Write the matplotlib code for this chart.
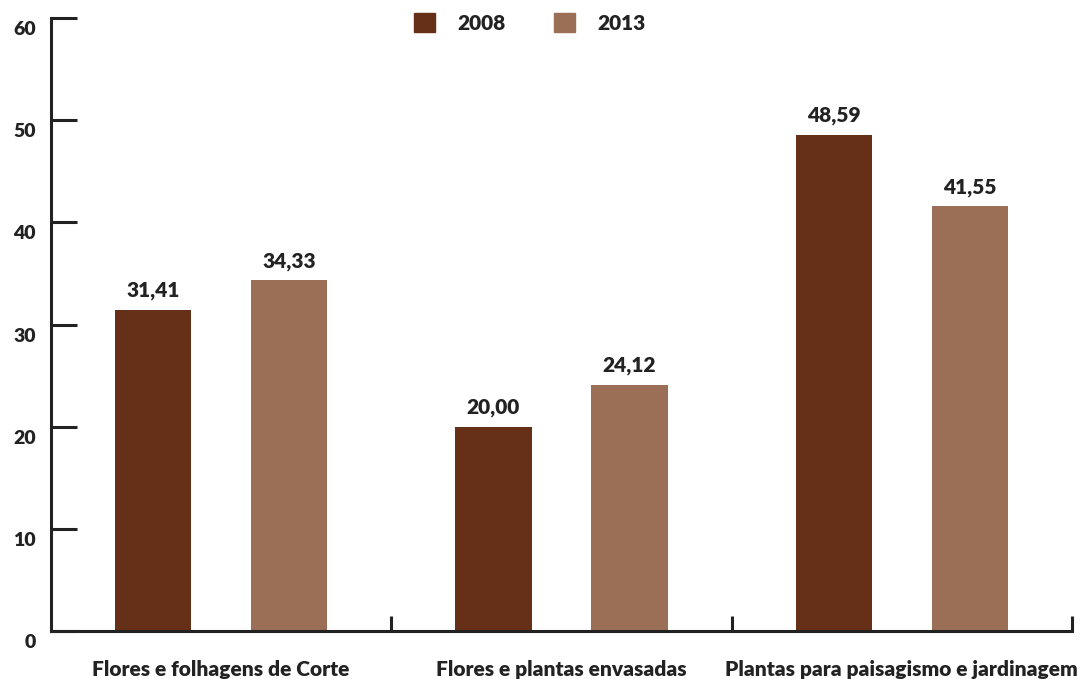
import numpy as np
import matplotlib
matplotlib.use("Agg")
import matplotlib.pyplot as plt
import matplotlib.transforms as mtransforms
from matplotlib.patches import Patch

plt.rcParams['font.family'] = ['Lato', 'DejaVu Sans']
WT = 'heavy'

# data
categories = ["Flores e folhagens de Corte", "Flores e plantas envasadas",
              "Plantas para paisagismo e jardinagem"]
years = ["2008", "2013"]
v2008 = [31.41, 20.00, 48.59]
v2013 = [34.33, 24.12, 41.55]

c2008 = "#662f17"
c2013 = "#9a6f55"
ink = "#222222"

fig = plt.figure(figsize=(10.8, 6.79), dpi=100)
ax = fig.add_axes([51/1080, 1 - 631/679, (1072 - 51)/1080, (631 - 18)/679])

x = np.arange(len(categories))
w = 0.224
b1 = ax.bar(x - 0.2, v2008, w, color=c2008)
b2 = ax.bar(x + 0.2, v2013, w, color=c2013)

fmt = lambda v: f"{v:.2f}".replace('.', ',')
for bars, vals in ((b1, v2008), (b2, v2013)):
    ax.bar_label(bars, labels=[fmt(v) for v in vals], padding=7,
                 fontsize=15, fontweight=WT, color=ink)

ax.set_xlim(-0.5, 2.5)
ax.set_ylim(0, 60)

for s in ('top', 'right'):
    ax.spines[s].set_visible(False)
for s in ('left', 'bottom'):
    ax.spines[s].set_linewidth(2.2)
    ax.spines[s].set_color(ink)

ax.set_yticks(range(0, 61, 10))
ax.tick_params(axis='y', direction='in', length=19, width=2.2, color=ink,
               labelsize=14, labelcolor=ink, pad=11)
# labels sit a bit below their tick marks
off = mtransforms.ScaledTranslation(0, -10/100, fig.dpi_scale_trans)
for lab in ax.get_yticklabels():
    lab.set_transform(lab.get_transform() + off)
    lab.set_fontweight(WT)

ax.set_xticks(x)
ax.set_xticklabels(categories, fontsize=15, fontweight=WT, color=ink)
ax.tick_params(axis='x', which='major', length=0, pad=21)
ax.set_xticks([0.5, 1.5, 2.5], minor=True)
ax.tick_params(axis='x', which='minor', direction='in', length=11, width=2.2, color=ink)

handles = [Patch(color=c2008), Patch(color=c2013)]
leg = fig.legend(handles, years, loc='center', bbox_to_anchor=(530/1080, 1 - 23/679),
                 ncol=2, frameon=False, fontsize=15, handlelength=1.0, handleheight=1.0,
                 handletextpad=1.1, columnspacing=2.3)
for t in leg.get_texts():
    t.set_fontweight(WT)
    t.set_color(ink)

fig.savefig("out.png", dpi=100)
